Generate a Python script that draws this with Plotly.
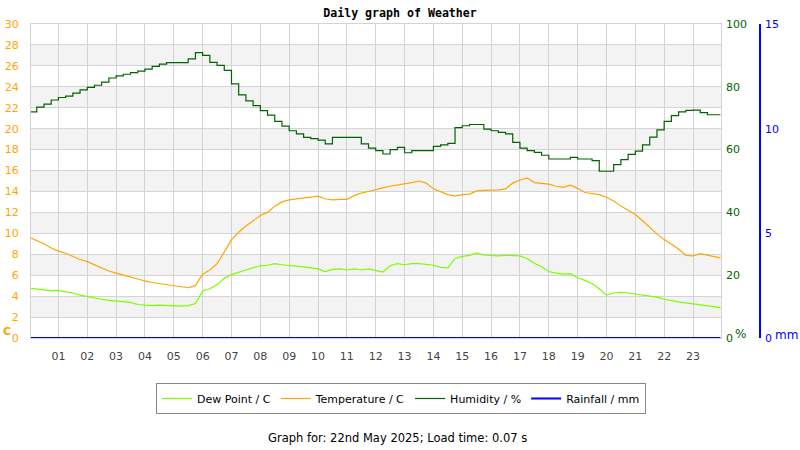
import plotly.graph_objects as go

WIDTH = 800
HEIGHT = 450
PLOT_L, PLOT_T, PLOT_B, PAPER_R = 31, 24, 338, 760
PAPER_W = PAPER_R - PLOT_L
PAPER_H = PLOT_B - PLOT_T

# readings every 15 minutes (hour of day), last one just before midnight
hours = [i / 4 for i in range(96)] + [23.95]

temperature = [
    9.6, 9.3, 9.0, 8.6, 8.3, 8.1, 7.8, 7.5, 7.3, 7.0, 6.7, 6.4,
    6.2, 6.0, 5.8, 5.6, 5.45, 5.3, 5.2, 5.05, 4.95, 4.9, 4.8, 5.0,
    6.1, 6.5, 7.1, 8.2, 9.4, 10.1, 10.7, 11.2, 11.7, 12.0, 12.6, 13.0,
    13.2, 13.3, 13.4, 13.45, 13.55, 13.3, 13.2, 13.25, 13.25, 13.6, 13.85, 14.0,
    14.2, 14.35, 14.5, 14.6, 14.75, 14.85, 15.0, 14.8, 14.25, 14.0, 13.7, 13.55,
    13.7, 13.75, 14.05, 14.1, 14.1, 14.15, 14.25, 14.8, 15.1, 15.3, 14.85, 14.75,
    14.7, 14.5, 14.4, 14.6, 14.3, 13.9, 13.8, 13.7, 13.45, 13.1, 12.6, 12.2,
    11.8, 11.2, 10.55, 9.95, 9.4, 8.95, 8.5, 7.9, 7.85, 8.05, 7.9, 7.75,
    7.65,
]

dew_point = [
    4.75, 4.7, 4.6, 4.5, 4.55, 4.4, 4.3, 4.1, 3.95, 3.85, 3.7, 3.6,
    3.55, 3.45, 3.4, 3.2, 3.15, 3.1, 3.15, 3.1, 3.1, 3.05, 3.1, 3.3,
    4.5, 4.7, 5.1, 5.7, 6.05, 6.3, 6.5, 6.7, 6.9, 6.95, 7.1, 7.0,
    6.95, 6.9, 6.8, 6.7, 6.6, 6.35, 6.55, 6.6, 6.5, 6.6, 6.5, 6.6,
    6.45, 6.3, 6.9, 7.1, 7.0, 7.1, 7.1, 7.0, 6.95, 6.75, 6.7, 7.6,
    7.8, 7.9, 8.1, 7.95, 7.9, 7.85, 7.9, 7.85, 7.85, 7.6, 7.15, 6.8,
    6.35, 6.2, 6.1, 6.15, 5.75, 5.5, 5.2, 4.7, 4.1, 4.3, 4.35, 4.3,
    4.2, 4.15, 4.05, 3.9, 3.7, 3.55, 3.45, 3.35, 3.25, 3.15, 3.05, 2.95,
    2.9,
]

humidity = [
    72.0, 73.5, 74.5, 75.8, 76.6, 77.0, 78.0, 79.0, 79.8, 80.5, 81.5, 82.8,
    83.5, 84.0, 84.5, 85.0, 85.6, 86.5, 87.2, 87.7, 87.7, 87.7, 88.9, 90.9,
    90.0, 87.8, 86.8, 85.2, 80.9, 77.4, 75.5, 74.0, 72.4, 71.0, 69.0, 67.5,
    66.0, 65.0, 63.9, 63.5, 63.0, 61.8, 63.9, 63.9, 63.9, 63.9, 61.8, 60.5,
    59.7, 58.6, 60.0, 60.7, 59.0, 59.7, 59.7, 59.7, 61.0, 61.5, 62.0, 67.0,
    67.6, 68.0, 68.0, 66.5, 66.0, 65.5, 65.0, 62.3, 60.5, 59.7, 59.1, 58.2,
    57.0, 57.0, 57.0, 57.5, 57.0, 57.0, 56.5, 53.1, 53.1, 55.2, 56.8, 58.5,
    59.5, 61.5, 64.0, 66.3, 69.0, 70.8, 72.0, 72.5, 72.6, 71.8, 71.1, 71.1,
    71.1,
]

rainfall = [0.0] * len(hours)

hour_ticks = list(range(1, 24))
hour_labels = [f'{h:02d}' for h in hour_ticks]
temp_ticks = list(range(0, 31, 2))
humidity_ticks = [0, 20, 40, 60, 80, 100]
rain_ticks = [0, 5, 10, 15]

FONT = 'DejaVu Sans'
GRID = '#d3d3d3'


def px_x(x):
    return (x - PLOT_L) / PAPER_W


def px_y(y):
    return (PLOT_B - y) / PAPER_H


fig = go.Figure()
fig.add_trace(go.Scatter(x=hours, y=dew_point, name='Dew Point / C', mode='lines',
                         line=dict(color='#7cfc00', width=1.2)))
fig.add_trace(go.Scatter(x=hours, y=temperature, name='Temperature / C', mode='lines',
                         line=dict(color='#ffa500', width=1.2)))
fig.add_trace(go.Scatter(x=hours, y=humidity, name='Humidity / %', mode='lines', yaxis='y2',
                         line=dict(color='#006400', width=1.2, shape='hv')))
fig.add_trace(go.Scatter(x=hours, y=rainfall, name='Rainfall / mm', mode='lines', yaxis='y3',
                         line=dict(color='#0000ff', width=2), cliponaxis=False))

# alternating light bands behind the plot
for lo in range(2, 30, 4):
    fig.add_shape(type='rect', xref='x domain', yref='y', x0=0, x1=1, y0=lo, y1=lo + 2,
                  fillcolor='#f3f3f3', line_width=0, layer='below')

fig.update_layout(
    template='none',
    width=WIDTH, height=HEIGHT,
    margin=dict(l=PLOT_L, r=WIDTH - PAPER_R, t=PLOT_T, b=HEIGHT - PLOT_B, autoexpand=False),
    paper_bgcolor='white', plot_bgcolor='white',
    font=dict(family=FONT, size=11, color='#444444'),
    title=dict(text='<b>Daily graph of Weather</b>', x=400 / WIDTH, xref='container', xanchor='center',
               y=1 - 13 / HEIGHT, yref='container', yanchor='middle',
               font=dict(family='DejaVu Sans Mono', size=11.6, color='black')),
    xaxis=dict(range=[0.05, 23.97], domain=[0, 690 / PAPER_W], tickvals=hour_ticks, ticktext=hour_labels,
               automargin=False, showgrid=True, gridcolor=GRID, gridwidth=1, showline=True,
               linecolor=GRID, mirror=True, zeroline=False, ticks='', ticklabelstandoff=8,
               tickfont=dict(size=11, color='#444444')),
    yaxis=dict(range=[0, 30], tickvals=temp_ticks, automargin=False, showgrid=True, gridcolor=GRID,
               gridwidth=1, showline=True, linecolor=GRID, mirror=True, zeroline=False, ticks='',
               ticklabelstandoff=9, tickfont=dict(size=11, color='#ffa500')),
    yaxis2=dict(range=[0, 100], tickvals=humidity_ticks, overlaying='y', side='right', anchor='x',
                automargin=False, showgrid=False, zeroline=False, showline=False, ticks='',
                ticklabelstandoff=4, tickfont=dict(size=11, color='#006400')),
    yaxis3=dict(range=[0, 15], tickvals=rain_ticks, overlaying='y', side='right', anchor='free',
                position=1.0, automargin=False, showgrid=False, zeroline=False, showline=True,
                linecolor='#0000ff', linewidth=1.5, ticks='', ticklabelstandoff=2,
                tickfont=dict(size=11, color='#0000ff')),
    legend=dict(orientation='h', xref='container', x=401 / WIDTH, xanchor='center',
                yref='container', y=1 - 383 / HEIGHT, yanchor='top',
                bordercolor='#888888', borderwidth=1, bgcolor='white',
                font=dict(family=FONT, size=11, color='black'), itemwidth=30),
    showlegend=True,
)

fig.add_annotation(text='<b>C</b>', x=px_x(2), y=px_y(331), xref='paper', yref='paper',
                   xanchor='left', yanchor='middle', showarrow=False, borderpad=0,
                   font=dict(size=11, color='#ffa500'))
fig.add_annotation(text='%', x=px_x(740), y=px_y(334), xref='paper', yref='paper',
                   xanchor='center', yanchor='middle', showarrow=False,
                   font=dict(size=12, color='#006400'))
fig.add_annotation(text='mm', x=px_x(786), y=px_y(335), xref='paper', yref='paper',
                   xanchor='center', yanchor='middle', showarrow=False,
                   font=dict(size=12, color='#0000ff'))
fig.add_annotation(text='Graph for: 22nd May 2025; Load time: 0.07 s', x=px_x(397),
                   y=px_y(438), xref='paper', yref='paper', xanchor='center', yanchor='middle',
                   showarrow=False, font=dict(size=11.5, color='black'))

# the browser's default 8px body margin would shift the whole figure
fig.write_html('out.html', config={'displayModeBar': False},
               post_script="document.body.style.margin = '0';")
